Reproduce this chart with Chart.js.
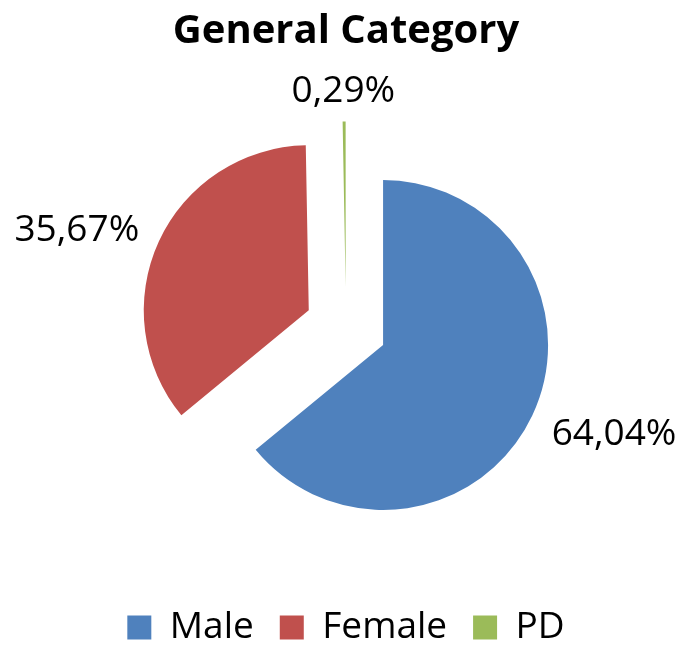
<!DOCTYPE html>
<html>
<head>
<meta charset="utf-8">
<script src="https://cdn.jsdelivr.net/npm/chart.js@4"></script>
<style>
  body { margin: 0; background: #fff; }
  #wrap { width: 680px; height: 645px; }
</style>
</head>
<body>
<div id="wrap"><canvas id="pieChart"></canvas></div>
<script>
const categories = ['Male', 'Female', 'PD'];
const shares = [64.04, 35.67, 0.29];
const sliceColors = ['#4F81BD', '#C0504D', '#9BBB59'];

const fontFamily = "'Open Sans', 'Noto Sans', sans-serif";
const explode = 41;   // how far each slice is pulled out, px

// draw every arc shifted along its mid angle (Excel style explosion,
// without the angle trimming the built-in offset option does)
const explodedSlices = {
    id: 'explodedSlices',
    beforeDatasetDraw(chart, args) {
        const ctx = chart.ctx;
        args.meta.data.forEach(arc => {
            const mid = (arc.startAngle + arc.endAngle) / 2;
            ctx.save();
            ctx.translate(Math.cos(mid) * explode, Math.sin(mid) * explode);
            arc.draw(ctx, chart.chartArea);
            ctx.restore();
        });
        return false;
    }
};

// percentage labels outside each slice
const outsideLabels = {
    id: 'outsideLabels',
    afterDatasetsDraw(chart) {
        const ctx = chart.ctx;
        const meta = chart.getDatasetMeta(0);
        ctx.save();
        ctx.font = '37px ' + fontFamily;
        ctx.fillStyle = '#000';
        ctx.textAlign = 'center';
        ctx.textBaseline = 'middle';
        meta.data.forEach((arc, i) => {
            const mid = (arc.startAngle + arc.endAngle) / 2;
            const dx = Math.cos(mid), dy = Math.sin(mid);
            const text = shares[i].toFixed(2).replace('.', ',') + '%';
            const w = ctx.measureText(text).width;
            const h = 13;
            const d = arc.outerRadius + explode + 28;
            ctx.fillText(text, arc.x + dx * (d + w / 2), arc.y + dy * (d + h / 2) + 4);
        });
        ctx.restore();
    }
};

const ctx = document.getElementById('pieChart').getContext('2d');

const pieChart = new Chart(ctx, {
    type: 'pie',
    data: {
        labels: categories,
        datasets: [{
            data: shares,
            backgroundColor: sliceColors,
            borderWidth: 0,
            radius: 165
        }]
    },
    options: {
        responsive: true,
        maintainAspectRatio: false,
        animation: false,
        layout: { padding: { left: 12, right: 0, top: 0, bottom: 0 } },
        plugins: {
            title: {
                display: true,
                text: 'General Category',
                color: '#000',
                font: { family: fontFamily, size: 40, weight: 'bold' },
                padding: { top: 8, bottom: 16 }
            },
            legend: {
                position: 'bottom',
                maxHeight: 62,
                labels: {
                    color: '#000',
                    boxWidth: 24,
                    boxHeight: 24,
                    padding: 26,
                    font: { family: fontFamily, size: 37 }
                }
            },
            tooltip: { enabled: false }
        }
    },
    plugins: [explodedSlices, outsideLabels]
});
</script>
</body>
</html>
